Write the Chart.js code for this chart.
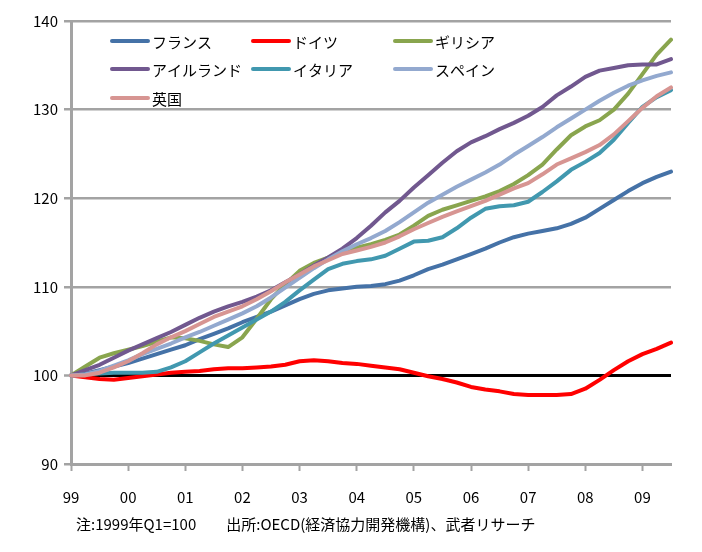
<!DOCTYPE html>
<html>
<head>
<meta charset="utf-8">
<script src="https://cdn.jsdelivr.net/npm/chart.js@4.4.0/dist/chart.umd.min.js"></script>
<style>
html, body { margin: 0; padding: 0; background: #fff; }
#wrap { position: relative; width: 702px; height: 552px; }
#note { position: absolute; left: 76px; top: 513px; font: 15px "Noto Sans CJK JP"; color: #000; white-space: pre; }
</style>
</head>
<body>
<div id="wrap">
  <canvas id="c" width="702" height="552"></canvas>
  <div id="note">注:1999年Q1=100　　出所:OECD(経済協力開発機構)、武者リサーチ</div>
</div>
<script>
'use strict';

// 年ラベル (四半期ごと、1999Q1〜2009Q3)
const years = ['99', '00', '01', '02', '03', '04', '05', '06', '07', '08', '09'];
const yTicks = [90, 100, 110, 120, 130, 140];

const france  = [100.0,100.2,100.6,101.0,101.4,101.9,102.4,102.9,103.4,104.1,104.7,105.3,106.0,106.6,107.2,107.9,108.6,109.2,109.6,109.8,110.0,110.1,110.3,110.7,111.3,112.0,112.5,113.1,113.7,114.3,115.0,115.6,116.0,116.3,116.6,117.1,117.8,118.8,119.8,120.8,121.7,122.4,123.0];
const germany = [100.0,99.8,99.6,99.5,99.7,99.9,100.1,100.3,100.4,100.5,100.7,100.8,100.8,100.9,101.0,101.2,101.6,101.7,101.6,101.4,101.3,101.1,100.9,100.7,100.3,99.9,99.6,99.2,98.7,98.4,98.2,97.9,97.8,97.8,97.8,97.9,98.5,99.5,100.6,101.6,102.4,103.0,103.7];
const greece  = [100.0,101.0,102.0,102.5,102.9,103.3,103.8,104.3,104.2,103.9,103.5,103.2,104.3,106.4,108.6,110.3,111.8,112.7,113.3,113.9,114.4,114.8,115.3,115.9,116.9,118.0,118.7,119.2,119.7,120.2,120.8,121.6,122.6,123.8,125.5,127.1,128.1,128.8,130.0,131.8,134.0,136.2,137.9];
const ireland = [100.0,100.6,101.2,102.0,102.8,103.5,104.2,104.9,105.7,106.5,107.2,107.8,108.3,108.9,109.6,110.5,111.4,112.4,113.3,114.3,115.5,116.9,118.4,119.7,121.2,122.6,124.0,125.3,126.3,127.0,127.8,128.5,129.3,130.3,131.6,132.6,133.7,134.4,134.7,135.0,135.1,135.1,135.7];
const italy   = [100.0,100.1,100.2,100.3,100.3,100.3,100.4,100.9,101.6,102.6,103.6,104.5,105.4,106.3,107.2,108.3,109.6,110.8,112.0,112.6,112.9,113.1,113.5,114.3,115.1,115.2,115.6,116.6,117.8,118.8,119.1,119.2,119.6,120.7,121.9,123.2,124.1,125.1,126.6,128.5,130.3,131.4,132.2];
const spain   = [100.0,100.1,100.5,101.1,101.7,102.4,103.0,103.6,104.3,104.9,105.6,106.3,107.0,107.8,108.8,109.9,111.0,112.1,113.1,114.0,114.8,115.5,116.3,117.3,118.4,119.5,120.4,121.3,122.1,122.9,123.8,124.9,125.9,126.9,128.0,129.0,130.0,131.0,131.9,132.7,133.3,133.8,134.2];
const uk      = [100.0,100.0,100.3,100.9,101.6,102.5,103.5,104.3,105.0,105.8,106.6,107.2,107.8,108.6,109.5,110.5,111.4,112.3,113.0,113.7,114.1,114.5,115.0,115.7,116.5,117.2,117.9,118.5,119.1,119.7,120.4,121.1,121.7,122.7,123.8,124.5,125.2,126.0,127.2,128.7,130.2,131.5,132.5];

const seriesNames  = ['フランス', 'ドイツ', 'ギリシア', 'アイルランド', 'イタリア', 'スペイン', '英国'];
const seriesData   = [france, germany, greece, ireland, italy, spain, uk];
const seriesColors = ['#4572a7', '#ff0000', '#89a54e', '#71588f', '#4198af', '#93a9cf', '#d79592'];

// x軸ラベル: 年の最初の四半期だけ表示
const labels = france.map((v, i) => (i % 4 === 0 ? years[i / 4] : ''));

const gridGray = '#a3a3a3';
const font = '"Noto Sans CJK JP", "Noto Sans", sans-serif';

// 凡例 (プロット内に配置)
const legendSpots = [[112, 41], [253, 41], [395, 41], [112, 69], [253, 69], [395, 69], [112, 98]];
const innerLegend = {
    id: 'innerLegend',
    afterDatasetsDraw(chart) {
        const ctx = chart.ctx;
        ctx.save();
        ctx.font = '15px ' + font;
        ctx.textBaseline = 'middle';
        chart.data.datasets.forEach((ds, i) => {
            const [x, y] = legendSpots[i];
            ctx.strokeStyle = ds.borderColor;
            ctx.lineWidth = 4;
            ctx.lineCap = 'round';
            ctx.beginPath();
            ctx.moveTo(x, y);
            ctx.lineTo(x + 36, y);
            ctx.stroke();
            ctx.fillStyle = '#000';
            ctx.fillText(ds.label, x + 40, y + 1);
        });
        ctx.restore();
    }
};

new Chart(document.getElementById('c'), {
    type: 'line',
    data: {
        labels: labels,
        datasets: seriesData.map((d, i) => ({
            label: seriesNames[i],
            data: d,
            borderColor: seriesColors[i],
            backgroundColor: seriesColors[i],
            borderWidth: 4,
            pointRadius: 0,
            tension: 0,
            borderJoinStyle: 'round',
            borderCapStyle: 'round',
            order: seriesData.length - 1 - i
        }))
    },
    options: {
        responsive: false,
        devicePixelRatio: 1,
        animation: false,
        layout: { padding: { left: 0, right: 31, top: 21, bottom: 0 } },
        plugins: { legend: { display: false }, tooltip: { enabled: false } },
        scales: {
            x: {
                offset: false,
                afterFit(s) { s.height = 88; },
                grid: {
                    drawOnChartArea: false,
                    drawTicks: true,
                    tickLength: 7,
                    tickWidth: 2,
                    tickColor: (c) => (c.index % 4 === 0 ? gridGray : 'rgba(0,0,0,0)')
                },
                border: { color: gridGray, width: 3 },
                ticks: {
                    autoSkip: false,
                    maxRotation: 0,
                    padding: 17,
                    color: '#000',
                    font: { family: font, size: 15 }
                }
            },
            y: {
                min: 90,
                max: 140,
                afterFit(s) { s.width = 71; },
                afterBuildTicks(s) { s.ticks = yTicks.map(v => ({ value: v })); },
                grid: {
                    color: (c) => (c.tick && c.tick.value === 100 ? '#000' : (c.tick && c.tick.value === 90 ? 'rgba(0,0,0,0)' : gridGray)),
                    lineWidth: (c) => (c.tick && c.tick.value === 100 ? 3 : 2.5),
                    tickColor: gridGray,
                    tickLength: 7,
                    tickWidth: 2.5
                },
                border: { color: gridGray, width: 3 },
                ticks: {
                    padding: 6,
                    color: '#000',
                    font: { family: font, size: 15 }
                }
            }
        }
    },
    plugins: [innerLegend]
});
</script>
</body>
</html>
